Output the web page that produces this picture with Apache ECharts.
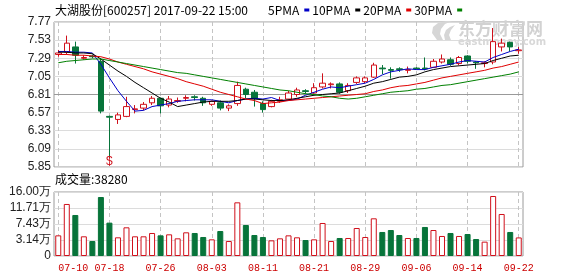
<!DOCTYPE html>
<html><head><meta charset="utf-8">
<script src="https://cdn.jsdelivr.net/npm/echarts@6/dist/echarts.min.js"></script>
<style>html,body{margin:0;padding:0;background:#fff}#c{width:578px;height:276px}</style>
</head><body><div id="c"></div>
<script>
// ---- data ----
const dates = ['07-10','07-11','07-12','07-13','07-14','07-17','07-18','07-19','07-20','07-21',
  '07-24','07-25','07-26','07-27','07-28','07-31','08-01','08-02','08-03','08-04',
  '08-07','08-08','08-09','08-10','08-11','08-14','08-15','08-16','08-17','08-18',
  '08-21','08-22','08-23','08-24','08-25','08-28','08-29','08-30','08-31','09-01',
  '09-04','09-05','09-06','09-07','09-08','09-11','09-12','09-13','09-14','09-15',
  '09-18','09-19','09-20','09-21','09-22'];
// [open, close, low, high]
const ohlc = [
  [7.34,7.36,7.31,7.40],[7.37,7.49,7.34,7.59],[7.44,7.33,7.22,7.51],[7.29,7.30,7.27,7.33],[7.32,7.31,7.29,7.34],
  [7.25,6.59,6.56,7.29],[6.52,6.51,5.97,6.53],[6.48,6.54,6.42,6.57],[6.52,6.65,6.51,6.78],[6.61,6.62,6.56,6.67],
  [6.63,6.68,6.60,6.71],[6.70,6.76,6.67,6.79],[6.76,6.66,6.56,6.77],[6.67,6.75,6.64,6.79],[6.72,6.73,6.70,6.77],
  [6.76,6.77,6.72,6.80],[6.78,6.77,6.73,6.80],[6.76,6.70,6.66,6.78],[6.68,6.72,6.66,6.73],[6.70,6.63,6.60,6.73],
  [6.63,6.66,6.59,6.68],[6.69,6.93,6.66,6.98],[6.88,6.81,6.76,6.90],[6.84,6.76,6.65,6.87],[6.69,6.61,6.57,6.72],
  [6.65,6.72,6.64,6.74],[6.72,6.74,6.70,6.78],[6.75,6.83,6.73,6.86],[6.81,6.87,6.78,6.90],[6.86,6.85,6.82,6.88],
  [6.83,6.90,6.82,6.96],[6.91,6.96,6.89,7.09],[6.94,6.95,6.89,6.97],[6.95,6.84,6.82,6.97],[6.86,6.93,6.83,6.96],
  [6.97,7.03,6.95,7.05],[6.98,7.03,6.96,7.05],[7.04,7.20,7.03,7.23],[7.16,7.15,7.08,7.20],[7.14,7.13,7.02,7.17],
  [7.15,7.14,7.11,7.17],[7.13,7.14,7.09,7.18],[7.16,7.15,7.14,7.17],[7.16,7.15,7.13,7.30],[7.17,7.25,7.16,7.28],
  [7.24,7.28,7.22,7.34],[7.27,7.21,7.19,7.30],[7.22,7.30,7.20,7.32],[7.32,7.25,7.22,7.33],[7.24,7.23,7.15,7.25],
  [7.22,7.23,7.17,7.25],[7.24,7.51,7.21,7.69],[7.44,7.49,7.38,7.55],[7.50,7.44,7.38,7.51],[7.39,7.40,7.35,7.44]
];
// volume in 万
const volumes = [4.39,12.79,9.84,4.13,2.87,14.66,7.79,3.86,6.54,4.13,
  4.13,5.02,4.39,4.66,3.59,5.20,5.02,3.95,3.32,5.55,
  2.87,13.23,7.16,4.48,3.95,3.05,3.59,4.39,3.86,3.14,
  3.32,7.70,2.87,3.68,3.68,6.36,3.95,8.95,5.29,5.82,
  4.48,3.68,3.68,6.63,5.82,4.22,5.02,4.22,4.75,3.41,
  2.70,14.93,10.11,5.29,3.83];
const ma5 = [7.38,7.38,7.37,7.37,7.36,7.21,7.03,6.86,6.72,6.59,6.60,6.65,6.67,6.69,6.72,6.73,6.74,6.74,6.74,6.72,
  6.70,6.73,6.75,6.76,6.75,6.77,6.73,6.73,6.75,6.80,6.84,6.88,6.91,6.90,6.92,6.94,6.96,7.01,7.07,7.11,
  7.13,7.15,7.14,7.14,7.17,7.19,7.21,7.24,7.26,7.25,7.24,7.30,7.34,7.38,7.41];
const ma10 = [7.37,7.37,7.36,7.36,7.35,7.28,7.20,7.12,7.05,6.97,6.90,6.83,6.76,6.71,6.65,6.67,6.69,6.71,6.72,6.72,
  6.72,6.73,6.75,6.75,6.74,6.73,6.73,6.74,6.76,6.78,6.80,6.81,6.82,6.83,6.86,6.89,6.92,6.96,6.98,7.01,
  7.04,7.05,7.07,7.11,7.14,7.16,7.18,7.19,7.20,7.21,7.22,7.26,7.29,7.32,7.33];
const ma20 = [7.34,7.34,7.33,7.33,7.32,7.31,7.28,7.24,7.21,7.18,7.15,7.11,7.08,7.05,7.02,6.98,6.95,6.92,6.88,6.84,
  6.81,6.78,6.75,6.73,6.69,6.70,6.71,6.73,6.74,6.75,6.76,6.77,6.78,6.79,6.80,6.81,6.82,6.85,6.87,6.90,
  6.92,6.93,6.95,6.97,7.00,7.03,7.05,7.07,7.09,7.11,7.13,7.16,7.18,7.21,7.24];
const ma30 = [7.23,7.25,7.26,7.27,7.28,7.28,7.26,7.24,7.22,7.20,7.18,7.16,7.14,7.12,7.10,7.09,7.07,7.05,7.03,7.01,
  6.99,6.97,6.95,6.93,6.91,6.89,6.87,6.86,6.84,6.82,6.81,6.79,6.78,6.76,6.75,6.76,6.78,6.80,6.82,6.84,
  6.85,6.86,6.88,6.89,6.91,6.93,6.94,6.96,6.98,7.00,7.02,7.04,7.06,7.08,7.11];
const priceMin = 5.85, priceMax = 7.77, priceStep = 0.24;
const midPrice = 6.81;
const volTickLabels = ['0','3.14万','7.43万','11.71万','16.00万'];
const volAxisBottom = -1.142857, volAxisTop = 16; // 万 at bottom / top of the volume panel
const lastVolumeText = '成交量:38280';
const titleText = '大湖股份[600257] 2017-09-22 15:00';
const maNames = ['5PMA','10PMA','20PMA','30PMA'];

// ---- style ----
const RED = '#d0101b', GREEN = '#07743a';
const maColors = ['#0000c8','#000000','#e00000','#008000'];
const volStep = (volAxisTop - volAxisBottom) / 4;
const gridLeft = 54, gridWidth = 469;
const vSplit = {show: true, interval: 5, alignWithLabel: true,
                lineStyle: {type: [4,3], color: '#c4c4c4', width: 1}};

const chart = echarts.init(document.getElementById('c'), null, {renderer: 'canvas'});
chart.setOption({
  animation: false,
  backgroundColor: '#fff',
  title: [
    {text: titleText, left: 55, top: 4, padding: 0,
     textStyle: {fontSize: 12, fontWeight: 'normal', color: '#000', fontFamily: 'Noto Sans CJK SC'}},
    {text: lastVolumeText, left: 55, top: 173, padding: 0,
     textStyle: {fontSize: 12, fontWeight: 'normal', color: '#000', fontFamily: 'Noto Sans CJK SC'}}
  ],
  legend: {
    left: 268, top: 4, padding: 0, itemWidth: 5, itemHeight: 3, itemGap: 3, align: 'right',
    icon: 'rect', data: maNames, selectedMode: false,
    textStyle: {fontSize: 12, color: '#000', fontFamily: 'Noto Sans CJK SC'}
  },
  graphic: [
    {type: 'polygon', z: 1, silent: true,
     shape: {points: [[437,40],[432,33],[433,27],[438,23],[446,21],[452,21],[445,24],[441,29],[440,34],[443,40]]},
     style: {fill: '#d6d6d6'}},
    {type: 'polygon', z: 1, silent: true,
     shape: {points: [[445,40],[444,35],[446,30],[450,27],[455,25],[451,30],[449,35],[451,40]]},
     style: {fill: '#d6d6d6'}},
    {type: 'text', left: 458, top: 20, z: 1, silent: true,
     style: {text: '东方财富网', font: 'bold 17px "Noto Sans CJK SC"', fill: '#d2d2d2'}},
    {type: 'text', left: 458, top: 37, z: 1, silent: true,
     style: {text: 'eastmoney.com', font: 'bold 10px "DejaVu Sans"', fill: '#d8d8d8'}}
  ],
  grid: [
    {left: gridLeft, top: 22, width: gridWidth, height: 145, show: true, borderColor: '#9a9a9a', borderWidth: 1},
    {left: gridLeft, top: 192, width: gridWidth, height: 64, show: true, borderColor: '#9a9a9a', borderWidth: 1}
  ],
  xAxis: [
    {type: 'category', gridIndex: 0, data: dates, boundaryGap: true,
     axisLine: {show: false}, axisTick: {show: false}, axisLabel: {show: false}, splitLine: vSplit},
    {type: 'category', gridIndex: 1, data: dates, boundaryGap: true,
     axisLine: {show: false}, axisTick: {show: false}, splitLine: vSplit,
     axisLabel: {show: true, interval: 5, color: '#cc0000', fontSize: 10, fontFamily: 'Liberation Mono',
                 margin: 7, alignMinLabel: 'left'}}
  ],
  yAxis: [
    {type: 'value', gridIndex: 0, min: priceMin, max: priceMax, interval: priceStep,
     axisLine: {show: false}, axisTick: {show: false},
     axisLabel: {color: '#222', fontSize: 12, fontFamily: 'Liberation Sans', margin: 3,
                 formatter: v => v.toFixed(2)},
     splitLine: {lineStyle: {color: '#dcdcdc', width: 1}}},
    {type: 'value', gridIndex: 1, min: 0, max: 4, interval: 1,
     axisLine: {show: false}, axisTick: {show: false},
     axisLabel: {color: '#222', fontSize: 12, fontFamily: 'Liberation Sans', margin: 3,
                 formatter: v => volTickLabels[Math.round(v)]},
     splitLine: {lineStyle: {color: '#dcdcdc', width: 1}}}
  ],
  series: [
    {type: 'candlestick', name: 'K', xAxisIndex: 0, yAxisIndex: 0, z: 3, barWidth: 6,
     data: ohlc,
     itemStyle: {color: '#ffffff', color0: GREEN, borderColor: RED, borderColor0: GREEN, borderWidth: 1},
     markLine: {silent: true, symbol: ['none','none'], z: 1, animation: false, label: {show: false},
       lineStyle: {type: 'solid', color: '#999999', width: 1},
       data: [{yAxis: midPrice}]},
     markPoint: {silent: true, symbol: 'rect', symbolSize: 1, itemStyle: {color: 'rgba(0,0,0,0)'},
       label: {show: true, formatter: '$', color: RED, fontSize: 12, fontFamily: 'Liberation Sans', position: 'inside'},
       data: [{coord: [6, 5.915]}]}
    },
    ...[ma5, ma10, ma20, ma30].map((d, k) => ({
      type: 'line', name: maNames[k], xAxisIndex: 0, yAxisIndex: 0, data: d, z: 4,
      symbol: 'none', showSymbol: false, smooth: false, color: maColors[k],
      lineStyle: {width: 1, color: maColors[k]}
    })),
    {type: 'bar', name: 'VOL', xAxisIndex: 1, yAxisIndex: 1, barWidth: 6, z: 3,
     data: volumes.map((v, i) => {
       const up = ohlc[i][1] >= ohlc[i][0];
       return {value: (v - volAxisBottom) / volStep,
               itemStyle: up ? {color: '#ffffff', borderColor: RED, borderWidth: 1}
                             : {color: GREEN, borderColor: GREEN, borderWidth: 1}};
     })}
  ]
});
</script></body></html>
